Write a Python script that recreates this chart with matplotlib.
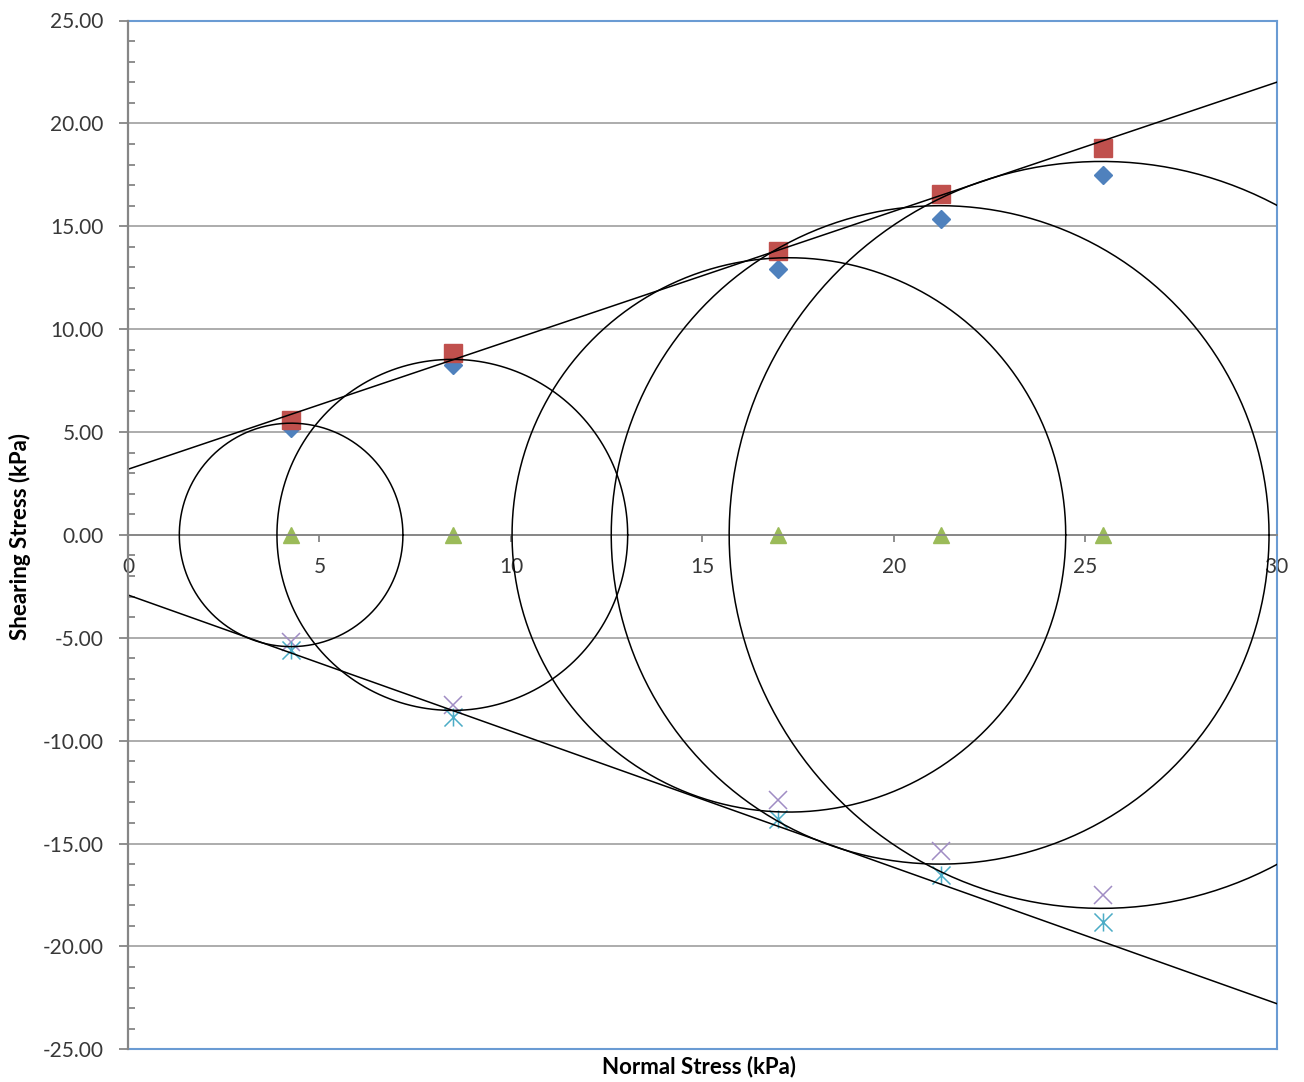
import numpy as np
import matplotlib
matplotlib.use("Agg")
import matplotlib.pyplot as plt
from matplotlib.path import Path
from matplotlib.ticker import FuncFormatter, MultipleLocator

plt.rcParams['font.family'] = ['Lato', 'DejaVu Sans']

# Mohr circle data: normal stress at circle centres and measured shear stresses
sigma_centre = [4.244, 8.488, 16.976, 21.22, 25.464]
tau_measured = [5.2, 8.25, 12.9, 15.35, 17.5]
tau_peak = [5.6, 8.85, 13.8, 16.55, 18.8]
tau_zero = [0.0, 0.0, 0.0, 0.0, 0.0]
tau_measured_neg = [-5.2, -8.25, -12.9, -15.35, -17.5]
tau_peak_neg = [-5.6, -8.85, -13.8, -16.55, -18.8]

# Circle outlines: centre on the stress axis with horizontal and vertical half-widths
circle_centre = [4.26, 8.47, 17.26, 21.21, 25.43]
circle_rx = [2.92, 4.58, 7.23, 8.59, 9.73]
circle_ry = [5.43, 8.53, 13.47, 16.0, 18.15]

# Failure envelopes: intercept (cohesion) and slope
env_upper = (3.19, 0.627)
env_lower = (-2.92, -0.662)

x_ticks = [0, 5, 10, 15, 20, 25, 30]
y_ticks = [-25, -20, -15, -10, -5, 0, 5, 10, 15, 20, 25]

W, H = 1304, 1082
fig = plt.figure(figsize=(W / 100, H / 100), dpi=100)
ax = fig.add_axes([128 / W, 1 - 1049.3 / H, (1276.7 - 128) / W, (1049.3 - 20.5) / H])

ax.set_xlim(0, 30)
ax.set_ylim(-25, 25)

grid_col = '#a6a6a6'
axis_col = '#868686'
border_col = '#6a9bd3'
text_col = '#383838'

for yv in y_ticks:
    ax.axhline(yv, color=grid_col, lw=1.3, zorder=1)

# Markers
ax.plot(sigma_centre, tau_measured, ls='none', marker='D', ms=9.5,
        color='#4f81bd', zorder=2)
ax.plot(sigma_centre, tau_peak, ls='none', marker='s', ms=12.5,
        color='#c0504d', zorder=2)
ax.plot(sigma_centre, tau_zero, ls='none', marker='^', ms=12,
        color='#9bbb59', zorder=2)
ax.plot(sigma_centre, tau_measured_neg, ls='none', marker='x', ms=13,
        mew=1.1, color='#a08cc4', zorder=2)
star = Path([(0, -1), (0, 1), (-1, -1), (1, 1), (-1, 1), (1, -1)],
            [Path.MOVETO, Path.LINETO, Path.MOVETO, Path.LINETO,
             Path.MOVETO, Path.LINETO])
ax.plot(sigma_centre, tau_peak_neg, ls='none', marker=star, ms=13,
        mew=1.1, color='#4bacc6', mfc='none', zorder=2)

# Circles
theta = np.linspace(0, 2 * np.pi, 400)
for cx, rx, ry in zip(circle_centre, circle_rx, circle_ry):
    ax.plot(cx + rx * np.cos(theta), ry * np.sin(theta), color='black',
            lw=1.1, zorder=3)

# Envelopes
xs = np.array([0.0, 30.0])
for c, m in (env_upper, env_lower):
    ax.plot(xs, c + m * xs, color='black', lw=1.1, zorder=3)

# Axes styling
for side in ('top', 'right'):
    ax.spines[side].set_color(border_col)
    ax.spines[side].set_linewidth(1.5)
ax.spines['left'].set_color(axis_col)
ax.spines['left'].set_linewidth(1.6)
ax.spines['left'].set_zorder(4)
ax.spines['bottom'].set_position(('data', 0))
ax.spines['bottom'].set_color(axis_col)
ax.spines['bottom'].set_linewidth(1.3)
ax.plot([0, 1], [0, 0], transform=ax.transAxes, color=border_col, lw=1.5,
        clip_on=False, zorder=4)

ax.set_xticks(x_ticks)
ax.set_xticklabels([str(v) for v in x_ticks])
ax.set_yticks(y_ticks)
ax.yaxis.set_major_formatter(FuncFormatter(lambda v, p: f"{v:.2f}"))
ax.yaxis.set_minor_locator(MultipleLocator(1))

ax.tick_params(axis='y', which='major', direction='out', length=6.5,
               width=1.3, color=axis_col, pad=11, labelsize=15,
               labelcolor=text_col)
ax.tick_params(axis='y', which='minor', direction='in', length=5,
               width=1.3, color=axis_col)
ax.tick_params(axis='x', which='major', direction='out', length=5,
               width=1.3, color=axis_col, pad=11, labelsize=15,
               labelcolor=text_col)
ax.set_facecolor('white')

fig.text(20 / W, 1 - 537 / H, 'Shearing Stress (kPa)', rotation=90,
         ha='center', va='center', fontsize=16, fontweight='bold',
         color='black')
fig.text(699 / W, 1 - 1067 / H, 'Normal Stress (kPa)', ha='center',
         va='center', fontsize=16, fontweight='bold', color='black')

fig.savefig('out.png', dpi=100, facecolor='white')
